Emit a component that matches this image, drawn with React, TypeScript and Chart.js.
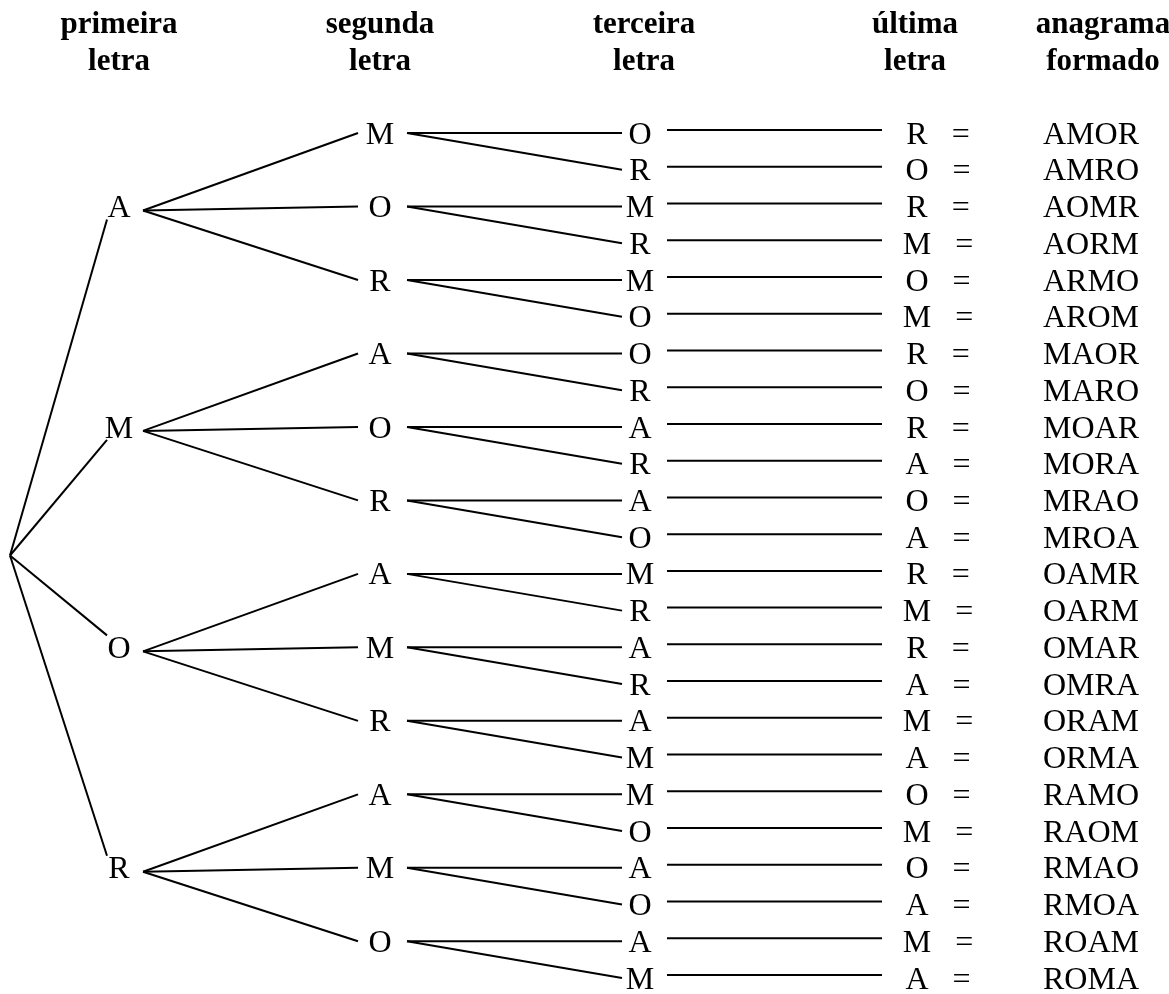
import React, { useEffect, useRef } from "react";
import { Chart, registerables } from "chart.js";

Chart.register(...registerables);

// ---------- data ----------
const headerTop = ["primeira", "segunda", "terceira", "última", "anagrama"];
const headerBottom = ["letra", "letra", "letra", "letra", "formado"];
const anagrams = [
  "AMOR", "AMRO", "AOMR", "AORM", "ARMO", "AROM",
  "MAOR", "MARO", "MOAR", "MORA", "MRAO", "MROA",
  "OAMR", "OARM", "OMAR", "OMRA", "ORAM", "ORMA",
  "RAMO", "RAOM", "RMAO", "RMOA", "ROAM", "ROMA",
];

// ---------- layout ----------
const W = 1169;
const H = 994;
const ROW0 = 133; // pixel of first row centre
const PITCH = 36.74; // row pitch in px
const FONT = '"Liberation Serif", "Times New Roman", serif';
const FS = 32;
const HFS = 31;
const colText = [119, 380, 640, 938, 1091];
const headerX = [119, 380, 644, 915, 1103];
const headerBase = [33, 70];
const rootX = 10;
const link1 = [107]; // root line end x
const link2 = [143, 358];
const link3 = [407, 622];
const link4 = [667, 882];

const px2row = (p: number) => p / PITCH;

type Seg = [number, number, number, number];

function buildSegments(): Seg[] {
  const segs: Seg[] = [];
  const n = anagrams.length;
  const rootRow = (n - 1) / 2;
  const firsts: { letter: string; start: number; count: number }[] = [];
  anagrams.forEach((w, i) => {
    const last = firsts[firsts.length - 1];
    if (last && last.letter === w[0]) last.count++;
    else firsts.push({ letter: w[0], start: i, count: 1 });
  });
  firsts.forEach((g) => {
    const node = g.start + 2;
    const endOff = node < rootRow ? px2row(13) : -px2row(12);
    segs.push([rootX, rootRow, link1[0], node + endOff]);
    for (let k = g.start; k < g.start + g.count; k += 2) {
      segs.push([link2[0], node + px2row(4), link2[1], k]);
      segs.push([link3[0], k, link3[1], k]);
      segs.push([link3[0], k, link3[1], k + 1]);
    }
  });
  anagrams.forEach((_, i) => {
    segs.push([link4[0], i - px2row(3), link4[1], i - px2row(3)]);
  });
  return segs;
}

const textPlugin = {
  id: "treeText",
  afterDatasetsDraw(chart: any) {
    const ctx = chart.ctx as CanvasRenderingContext2D;
    const xs = chart.scales.x;
    const ys = chart.scales.y;
    const capOff = (FS * 0.662) / 2;
    ctx.save();
    ctx.fillStyle = "#000";
    ctx.textBaseline = "alphabetic";
    ctx.font = `bold ${HFS}px ${FONT}`;
    ctx.textAlign = "center";
    headerTop.forEach((t, i) => {
      ctx.fillText(t, xs.getPixelForValue(headerX[i]), ys.getPixelForValue(px2row(headerBase[0] - ROW0)));
    });
    headerBottom.forEach((t, i) => {
      ctx.fillText(t, xs.getPixelForValue(headerX[i]), ys.getPixelForValue(px2row(headerBase[1] - ROW0)));
    });
    ctx.font = `${FS}px ${FONT}`;
    const baseY = (row: number) => ys.getPixelForValue(row) + capOff;
    let prev = "";
    anagrams.forEach((w, i) => {
      if (w[0] !== prev) {
        ctx.textAlign = "center";
        ctx.fillText(w[0], xs.getPixelForValue(colText[0]), baseY(i + 2));
        prev = w[0];
      }
    });
    anagrams.forEach((w, i) => {
      if (i % 2 === 0) {
        ctx.textAlign = "center";
        ctx.fillText(w[1], xs.getPixelForValue(colText[1]), baseY(i));
      }
    });
    const spaceW = ctx.measureText(" ").width;
    const eqW = ctx.measureText("=").width;
    anagrams.forEach((w, i) => {
      ctx.textAlign = "center";
      ctx.fillText(w[2], xs.getPixelForValue(colText[2]), baseY(i));
      const lw = ctx.measureText(w[3]).width;
      const total = lw + 3 * spaceW + eqW;
      const left = xs.getPixelForValue(colText[3]) - total / 2;
      ctx.textAlign = "left";
      ctx.fillText(w[3], left, baseY(i));
      ctx.fillText("=", left + lw + 3 * spaceW, baseY(i));
      ctx.textAlign = "center";
      ctx.fillText(w, xs.getPixelForValue(colText[4]), baseY(i));
    });
    ctx.restore();
  },
};

export default function App() {
  const ref = useRef<HTMLCanvasElement | null>(null);
  useEffect(() => {
    document.body.style.margin = "0";
    const canvas = ref.current;
    if (!canvas) return;
    const segs = buildSegments();
    const chart = new Chart(canvas, {
      type: "scatter",
      data: {
        datasets: segs.map((s) => ({
          data: [
            { x: s[0], y: s[1] },
            { x: s[2], y: s[3] },
          ],
          showLine: true,
          borderColor: "#000",
          borderWidth: 2,
          pointRadius: 0,
          pointHoverRadius: 0,
          fill: false,
        })),
      },
      options: {
        animation: false,
        responsive: false,
        devicePixelRatio: 1,
        layout: { padding: 0 },
        events: [],
        plugins: {
          legend: { display: false },
          title: { display: false },
          tooltip: { enabled: false },
        },
        scales: {
          x: { type: "linear", min: 0, max: W, display: false },
          y: {
            type: "linear",
            reverse: true,
            min: px2row(-ROW0),
            max: px2row(H - ROW0),
            display: false,
          },
        },
      },
      plugins: [textPlugin],
    });
    return () => chart.destroy();
  }, []);
  return (
    <div style={{ position: "absolute", left: 0, top: 0, width: W, height: H, background: "#fff" }}>
      <canvas ref={ref} width={W} height={H} style={{ display: "block" }} />
    </div>
  );
}
